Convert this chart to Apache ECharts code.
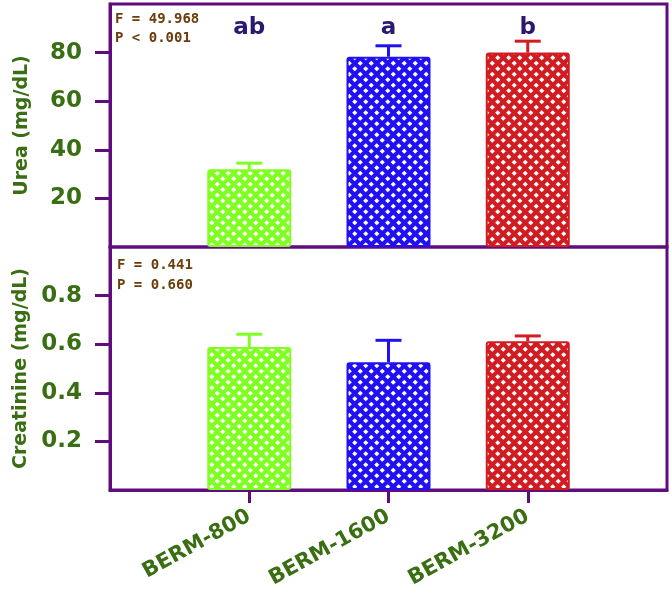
<!DOCTYPE html>
<html><head><meta charset="utf-8">
<script src="https://cdn.jsdelivr.net/npm/echarts@6/dist/echarts.min.js"></script>
<style>html,body{margin:0;padding:0;background:#fff}#c{width:672px;height:592px}</style>
</head><body><div id="c"></div>
<script>
const categories = ['BERM-800', 'BERM-1600', 'BERM-3200'];
const ureaMean = [32, 78.3, 80];
const ureaErr = [2.5, 4.5, 4.7];
const ureaLetters = ['ab', 'a', 'b'];
const creatMean = [0.588, 0.526, 0.612];
const creatErr = [0.053, 0.09, 0.022];
const ureaTicks = [20, 40, 60, 80];
const creatTicks = [0.2, 0.4, 0.6, 0.8];
const ureaStats = ['F = 49.968', 'P < 0.001'];
const creatStats = ['F = 0.441', 'P = 0.660'];
const barColors = ['#80ff22', '#2010f2', '#d11c22'];

const FRAME = '#5e0c7e';
const GREEN = '#3a6e12';
const FONT = '"DejaVu Sans", sans-serif';

function pattern(color) {
  const s = 11;
  const c = document.createElement('canvas');
  c.width = s; c.height = s;
  const g = c.getContext('2d');
  g.fillStyle = color; g.fillRect(0, 0, s, s);
  g.fillStyle = '#ffffff';
  const r = 2.6;
  const dot = (x, y) => { g.beginPath(); g.moveTo(x, y - r); g.lineTo(x + r, y); g.lineTo(x, y + r); g.lineTo(x - r, y); g.closePath(); g.fill(); };
  dot(2.75, 2.75); dot(8.25, 8.25);
  return { image: c, repeat: 'repeat' };
}

const xData = [''].concat(categories, ['']);
function barData(vals) {
  return ['-'].concat(vals.map((v, i) => ({
    value: v,
    itemStyle: { color: pattern(barColors[i]), borderColor: barColors[i], borderWidth: 2, borderRadius: 2 }
  })), ['-']);
}
function errData(means, errs) { return means.map((m, i) => [i + 1, m, errs[i]]); }
function errRender(params, api) {
  const x = api.value(0), m = api.value(1), e = api.value(2);
  const p0 = api.coord([x, m]), p1 = api.coord([x, m + e]);
  const col = barColors[params.dataIndex];
  return { type: 'group', children: [
    { type: 'line', shape: { x1: p0[0], y1: p0[1], x2: p1[0], y2: p1[1] }, style: { stroke: col, lineWidth: 3 } },
    { type: 'line', shape: { x1: p1[0] - 13, y1: p1[1], x2: p1[0] + 13, y2: p1[1] }, style: { stroke: col, lineWidth: 3 } }
  ]};
}

const grids = [
  { left: 110, right: 5, top: 4, height: 243, show: true, borderColor: FRAME, borderWidth: 3, backgroundColor: 'transparent' },
  { left: 110, right: 5, top: 247, height: 243, show: true, borderColor: FRAME, borderWidth: 3, backgroundColor: 'transparent' }
];

const yCommon = (idx, max, ticks, name, nameGap, fmt) => ({
  type: 'value', gridIndex: idx, min: 0, max: max, interval: max / 5,
  name: name, nameLocation: 'middle', nameGap: nameGap, nameRotate: 90,
  nameTextStyle: { color: GREEN, fontSize: 19, fontWeight: 'bold', fontFamily: FONT },
  axisLine: { show: true, lineStyle: { color: FRAME, width: 3 } },
  axisTick: { show: true, customValues: ticks, length: 15, inside: false, lineStyle: { color: FRAME, width: 3 } },
  axisLabel: { customValues: ticks, margin: 28, color: GREEN, fontSize: 23, fontWeight: 'bold', fontFamily: FONT, formatter: fmt },
  splitLine: { show: false }
});

const option = {
  animation: false,
  backgroundColor: '#ffffff',
  grid: grids,
  xAxis: [
    { type: 'category', gridIndex: 0, data: xData, boundaryGap: false,
      axisLine: { show: false }, axisTick: { show: false }, axisLabel: { show: false } },
    { type: 'category', gridIndex: 1, data: xData, boundaryGap: false,
      axisLine: { show: true, lineStyle: { color: FRAME, width: 3 } },
      axisTick: { show: true, length: 13, interval: (i, v) => v !== '', lineStyle: { color: FRAME, width: 3 } },
      axisLabel: { interval: 0, rotate: 29, margin: 25, color: GREEN, fontSize: 21, fontWeight: 'bold', fontFamily: FONT } }
  ],
  yAxis: [
    yCommon(0, 100, ureaTicks, 'Urea (mg/dL)', 78, v => String(v)),
    yCommon(1, 1, creatTicks, 'Creatinine (mg/dL)', 78, v => v.toFixed(1))
  ],
  graphic: [
    { type: 'text', left: 115, top: 10, style: { text: ureaStats.join('\n'), lineHeight: 19, fill: '#6b3c0c', font: 'bold 14px "DejaVu Sans Mono", monospace' } },
    { type: 'text', left: 117, top: 255, style: { text: creatStats.join('\n'), lineHeight: 20, fill: '#6b3c0c', font: 'bold 14px "DejaVu Sans Mono", monospace' } }
  ],
  series: [
    { type: 'bar', xAxisIndex: 0, yAxisIndex: 0, barWidth: 84, data: barData(ureaMean) },
    { type: 'custom', xAxisIndex: 0, yAxisIndex: 0, data: errData(ureaMean, ureaErr), renderItem: errRender, z: 3 },
    { type: 'custom', xAxisIndex: 0, yAxisIndex: 0, data: ureaLetters.map((l, i) => [i + 1, 90, l]),
      renderItem: (params, api) => {
        const p = api.coord([api.value(0), api.value(1)]);
        return { type: 'text', x: p[0], y: p[1], style: { text: ureaLetters[params.dataIndex], align: 'center', verticalAlign: 'middle', fill: '#2b1870', font: 'bold 23px ' + FONT } };
      } },
    { type: 'bar', xAxisIndex: 1, yAxisIndex: 1, barWidth: 84, data: barData(creatMean) },
    { type: 'custom', xAxisIndex: 1, yAxisIndex: 1, data: errData(creatMean, creatErr), renderItem: errRender, z: 3 }
  ]
};
const chart = echarts.init(document.getElementById('c'), null, { renderer: 'canvas' });
chart.setOption(option);
</script></body></html>
